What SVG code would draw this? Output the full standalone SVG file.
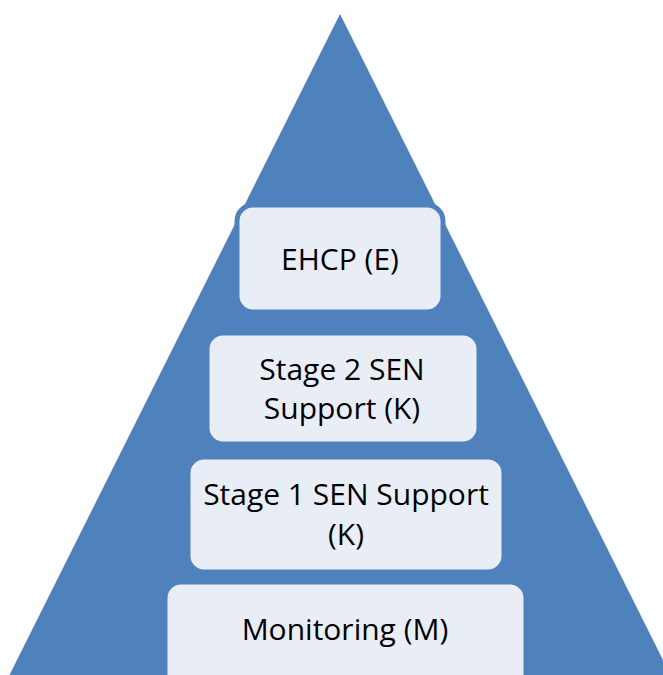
<svg xmlns="http://www.w3.org/2000/svg" width="663" height="675" viewBox="0 0 663 675">
<style>
.box{fill:#e9eef6;stroke:#4f81bd;stroke-width:5}
.t{font-family:"Open Sans","Liberation Sans",sans-serif;font-size:30px;fill:#000;text-anchor:middle}
</style>
<rect width="663" height="675" fill="#fff"/>
<polygon id="pyramid" points="340,14 9,676 671,676" fill="#4f81bd"/>
<g id="connectors"/>
<g id="ehcp">
<rect class="box" x="237" y="205" width="206" height="107" rx="16"/>
<text class="t" x="340" y="270">EHCP (E)</text>
</g>
<g id="stage2">
<rect class="box" x="207" y="333" width="272" height="111" rx="16"/>
<text class="t" x="342" y="380">Stage 2 SEN</text>
<text class="t" x="342" y="419">Support (K)</text>
</g>
<g id="stage1">
<rect class="box" x="188" y="457" width="316" height="115" rx="16"/>
<text class="t" x="346" y="505">Stage 1 SEN Support</text>
<text class="t" x="346" y="545">(K)</text>
</g>
<g id="monitoring">
<rect class="box" x="165" y="582" width="361" height="110" rx="16"/>
<text class="t" x="345" y="640">Monitoring (M)</text>
</g>
</svg>
